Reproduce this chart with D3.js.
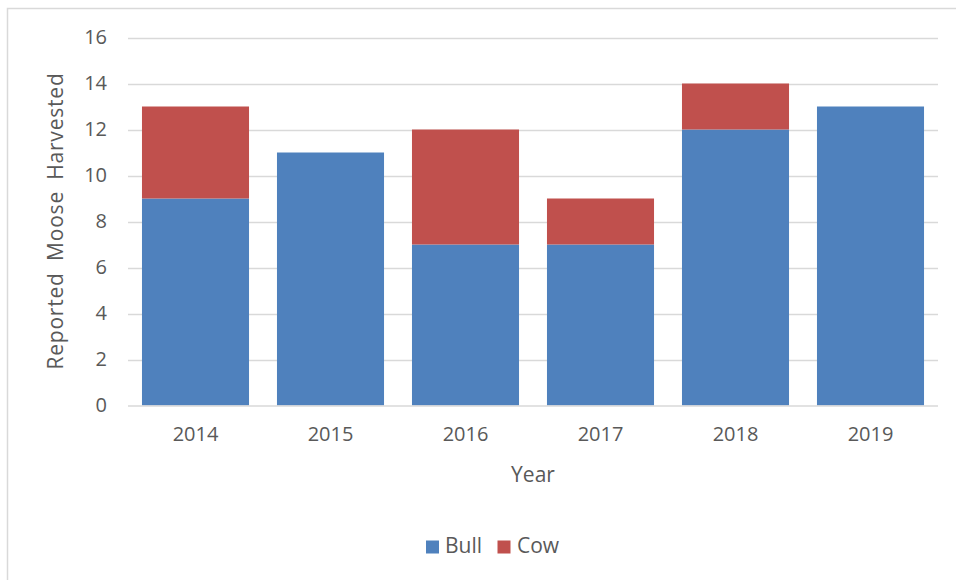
<!DOCTYPE html>
<html><head><meta charset="utf-8">
<script src="https://cdn.jsdelivr.net/npm/d3@7"></script>
<style>
html,body{margin:0;padding:0;background:#fff;}
svg{display:block;font-family:"Open Sans","Noto Sans",sans-serif;}
</style></head>
<body>
<svg id="chart" width="956" height="580"></svg>
<script>
const years = ["2014","2015","2016","2017","2018","2019"];
const bull = [9, 11, 7, 7, 12, 13];
const cow = [4, 0, 5, 2, 2, 0];
const seriesNames = ["Bull","Cow"];
const seriesColors = ["#4F81BD","#C0504D"];
const yTicks = [0,2,4,6,8,10,12,14,16];

(function(){
const svg = d3.select("#chart");
svg.append("rect").attr("x",7.5).attr("y",8.5).attr("width",1000).attr("height",1000)
  .attr("fill","none").attr("stroke","#d9d9d9").attr("stroke-width",1.5);

const pLeft = 128, pRight = 938, pTop = 37.5, pBottom = 405.5;
const x = d3.scaleBand().domain(years).range([pLeft,pRight]).paddingInner(0.207).paddingOuter(0.1035);
const y = d3.scaleLinear().domain([0,16]).range([pBottom,pTop]);

svg.append("g").selectAll("line").data(yTicks.filter(t=>t>0)).join("line")
  .attr("x1",pLeft).attr("x2",pRight).attr("y1",d=>Math.round(y(d))+0.5).attr("y2",d=>Math.round(y(d))+0.5)
  .attr("stroke","#d9d9d9").attr("stroke-width",1.3);

const table = years.map((yr,i)=>({year:yr, Bull:bull[i], Cow:cow[i]}));
const stacked = d3.stack().keys(seriesNames)(table);

svg.append("g").selectAll("g").data(stacked).join("g")
  .attr("fill",(d,i)=>seriesColors[i])
  .selectAll("rect").data(d=>d).join("rect")
  .attr("x",d=>x(d.data.year)).attr("width",x.bandwidth())
  .attr("y",d=>y(d[1])).attr("height",d=>y(d[0])-y(d[1]));

svg.append("line").attr("x1",pLeft).attr("x2",pRight).attr("y1",pBottom+0.5).attr("y2",pBottom+0.5)
  .attr("stroke","#d9d9d9").attr("stroke-width",1.5);

const yAxis = d3.axisLeft(y).tickValues(yTicks).tickSize(0).tickPadding(0);
const gy = svg.append("g").attr("transform",`translate(${pLeft-21},0)`).call(yAxis);
gy.select(".domain").remove();
gy.selectAll("text").attr("font-size",20).attr("fill","#595959").attr("font-family","'Open Sans','Noto Sans',sans-serif");

const xAxis = d3.axisBottom(x).tickSize(0).tickPadding(0);
const gx = svg.append("g").attr("transform",`translate(0,${pBottom+21})`).call(xAxis);
gx.select(".domain").remove();
gx.selectAll("text").attr("font-size",20).attr("fill","#595959").attr("font-family","'Open Sans','Noto Sans',sans-serif");

svg.append("text").attr("x",(pLeft+pRight)/2).attr("y",476).attr("text-anchor","middle")
  .attr("dominant-baseline","middle").attr("font-size",21).attr("fill","#595959").text("Year");
svg.append("text").attr("transform","translate(57,221) rotate(-90)").attr("text-anchor","middle")
  .attr("dominant-baseline","middle").attr("font-size",21).attr("letter-spacing",0.8).attr("word-spacing",5)
  .attr("fill","#595959").text("Reported Moose Harvested");

const legend = svg.append("g");
const legendItems = [{name:"Bull",sx:426,tx:445},{name:"Cow",sx:497.5,tx:517}];
legendItems.forEach((it,i)=>{
  legend.append("rect").attr("x",it.sx).attr("y",540.5).attr("width",13).attr("height",13).attr("fill",seriesColors[i]);
  legend.append("text").attr("x",it.tx).attr("y",547).attr("dominant-baseline","middle")
    .attr("font-size",21).attr("fill","#595959").text(it.name);
});
})();
</script>
</body></html>
